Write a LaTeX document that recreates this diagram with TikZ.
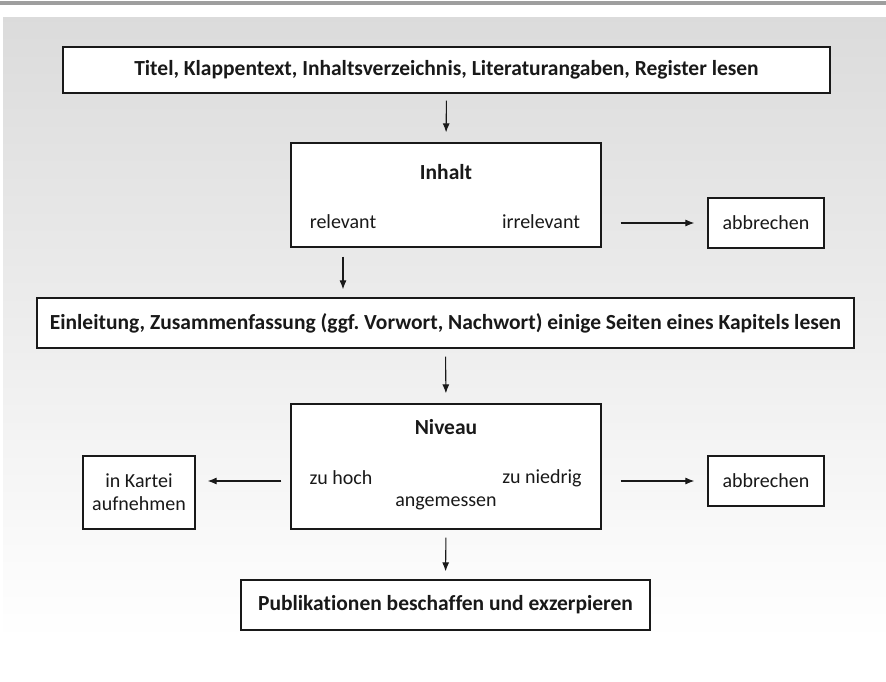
\documentclass[tikz,border=0pt]{standalone}
\usepackage{fontspec}
\setmainfont[Ligatures=NoCommon]{Carlito}
\usetikzlibrary{arrows.meta}

\definecolor{panelgray}{gray}{0.86}
\definecolor{rulegray}{gray}{0.62}
\definecolor{inkgray}{gray}{0.1}

\tikzset{
    box/.style={draw=inkgray, line width=1.2pt, fill=white, inner sep=0pt},
    txt/.style={text=inkgray, inner sep=0pt, font=\fontsize{20}{23}\selectfont},
    btxt/.style={txt, font=\fontsize{21.5}{24}\selectfont\bfseries},
    arr/.style={-{Latex[length=9pt,width=7pt]}, line width=1.1pt, draw=inkgray}
}

\begin{document}
\frenchspacing
\begin{tikzpicture}[x=1pt,y=-1pt]
        \useasboundingbox (0,0) rectangle (886,682);
        % background
        \shade[top color=panelgray, bottom color=white] (3,18) rectangle (886,640);
        \fill[white] (3,640) rectangle (886,682);
        \draw[rulegray, line width=3.5pt] (0,3) -- (886,3);

        % boxes
        \node[box, minimum width=767pt, minimum height=46pt] (titel) at (446.5,70) {};
        \node[box, minimum width=310pt, minimum height=104pt] (inhalt) at (446,195) {};
        \node[box, minimum width=116pt, minimum height=50pt] (abbr1) at (766,223) {};
        \node[box, minimum width=817pt, minimum height=50pt] (einl) at (445.5,323) {};
        \node[box, minimum width=310pt, minimum height=125pt] (niveau) at (446,466.5) {};
        \node[box, minimum width=112pt, minimum height=73pt] (kartei) at (139,492.5) {};
        \node[box, minimum width=116pt, minimum height=50pt] (abbr2) at (766,481) {};
        \node[box, minimum width=409pt, minimum height=50pt] (publ) at (445.5,605) {};

        % texts
        \node[btxt] (titeltxt) at (titel) {Titel, Klappentext, Inhaltsverzeichnis, Literaturangaben, Register lesen};
        \node[btxt] (inhalttxt) at (446,172) {Inhalt};
        \node[txt] (rel) at (343,222) {relevant};
        \node[txt] (irrel) at (541,222) {irrelevant};
        \node[txt] (abbr1txt) at (abbr1) {abbrechen};
        \node[btxt] (einltxt) at (einl) {Einleitung, Zusammenfassung (ggf. Vorwort, Nachwort) einige Seiten eines Kapitels lesen};
        \node[btxt] (niveautxt) at (446,427) {Niveau};
        \node[txt] (hoch) at (341,478) {zu hoch};
        \node[txt] (niedrig) at (542,478) {zu niedrig};
        \node[txt] (angem) at (446,503) {angemessen};
        \node[txt, align=center] (karteitxt) at (kartei) {in Kartei\\aufnehmen};
        \node[txt] (abbr2txt) at (abbr2) {abbrechen};
        \node[btxt] (publtxt) at (publ) {Publikationen beschaffen und exzerpieren};

        % Inhalt
        \draw[arr, shorten <=7pt, shorten >=10pt] (titel.south) -- (inhalt.north);
        \draw[arr, shorten <=19pt, shorten >=13pt] (inhalt.east |- abbr1) -- (abbr1.west);
        \draw[arr, shorten <=9pt, shorten >=8pt] (rel |- inhalt.south) -- (rel |- einl.north);

        % Niveau
        \draw[arr, shorten <=8pt, shorten >=10pt] (einl.south) -- (niveau.north);
        \draw[arr, shorten <=9pt, shorten >=12pt] (niveau.west |- abbr2) -- (kartei.east |- abbr2);
        \draw[arr, shorten <=19pt, shorten >=13pt] (niveau.east |- abbr2) -- (abbr2.west);
        \draw[arr, shorten <=8pt, shorten >=8pt] (niveau.south) -- (publ.north);
\end{tikzpicture}
\end{document}
